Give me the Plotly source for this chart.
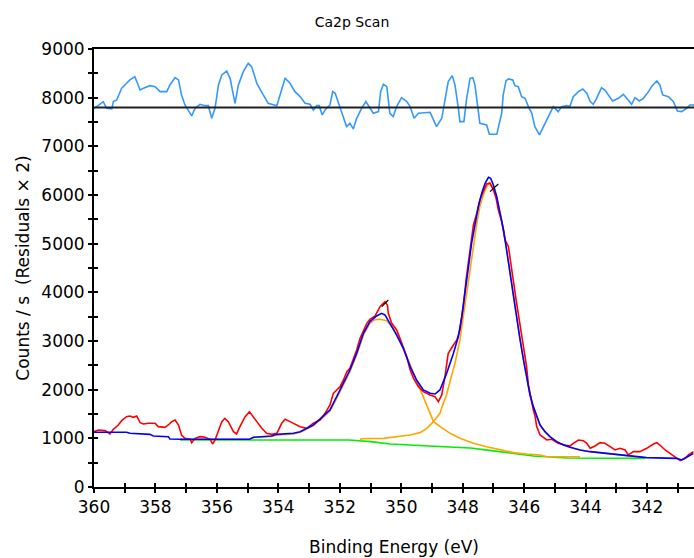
import plotly.graph_objects as go

# ---------------- data ----------------
res_E = [360.00, 359.91, 359.70, 359.59, 359.42, 359.37, 359.26, 359.10, 358.94, 358.83,
         358.67, 358.50, 358.39, 358.18, 358.01, 357.85, 357.63, 357.53, 357.36, 357.25,
         357.15, 357.04, 356.87, 356.82, 356.71, 356.55, 356.39, 356.28, 356.17, 356.06,
         355.95, 355.84, 355.68, 355.57, 355.41, 355.30, 355.14, 354.98, 354.87, 354.70,
         354.49, 354.33, 354.05, 353.95, 353.78, 353.62, 353.46, 353.29, 353.13, 352.97,
         352.86, 352.75, 352.67, 352.57, 352.48, 352.32, 352.23, 352.15, 351.99, 351.88,
         351.78, 351.67, 351.56, 351.45, 351.29, 351.15, 351.02, 350.91, 350.74, 350.67,
         350.58, 350.47, 350.37, 350.26, 350.15, 349.99, 349.82, 349.71, 349.58, 349.44,
         349.06, 348.95, 348.85, 348.68, 348.57, 348.47, 348.34, 348.25, 348.14, 348.09,
         347.96, 347.87, 347.76, 347.67, 347.60, 347.51, 347.44, 347.22, 347.13, 346.89,
         346.81, 346.73, 346.68, 346.59, 346.51, 346.37, 346.30, 346.19, 346.08, 345.97,
         345.86, 345.75, 345.65, 345.50, 345.37, 345.21, 345.05, 344.89, 344.78, 344.61,
         344.51, 344.40, 344.23, 344.09, 343.96, 343.85, 343.75, 343.64, 343.48, 343.37,
         343.26, 343.12, 342.93, 342.77, 342.66, 342.50, 342.39, 342.25, 342.12, 341.95,
         341.83, 341.68, 341.58, 341.49, 341.30, 341.14, 341.01, 340.87, 340.71, 340.60,
         340.47]
res_V = [7782, 7816, 7919, 7782, 7768, 7919, 7953, 8193, 8295, 8364,
         8432, 8158, 8193, 8247, 8227, 8124, 8124, 8261, 8412, 8364,
         8056, 7850, 7679, 7624, 7782, 7864, 7836, 7836, 7576, 7782,
         8261, 8467, 8549, 8398, 7884, 8261, 8535, 8706, 8638, 8295,
         8056, 7884, 7836, 8056, 8398, 8295, 8124, 8021, 7884, 7864,
         7747, 7836, 7836, 7645, 7747, 7850, 8124, 8090, 7782, 7576,
         7405, 7473, 7357, 7576, 7782, 7919, 7782, 7679, 7713, 8124,
         8275, 8227, 7679, 7610, 7816, 8001, 7919, 7816, 7576, 7679,
         7699, 7542, 7405, 7576, 7987, 8330, 8453, 8261, 7782, 7508,
         7508, 7987, 8398, 8412, 8261, 7782, 7473, 7439, 7247, 7247,
         7473, 7679, 8056, 8343, 8384, 8364, 8247, 8227, 8021, 7987,
         7816, 7679, 7405, 7234, 7405, 7610, 7816, 7713, 7816, 7836,
         7816, 8021, 8124, 8179, 8090, 7919, 7864, 7987, 8206, 8158,
         8056, 7932, 7987, 8069, 7987, 7864, 8001, 7932, 7987, 8124,
         8247, 8343, 8261, 8056, 8021, 7919, 7727, 7713, 7782, 7850,
         7850]
res_zero = 7800

raw_E = [360.00, 359.86, 359.64, 359.48, 359.37, 359.21, 359.10, 358.94, 358.83, 358.72,
         358.61, 358.50, 358.39, 358.23, 358.01, 357.91, 357.69, 357.58, 357.47, 357.36,
         357.25, 357.15, 357.04, 356.87, 356.82, 356.71, 356.55, 356.39, 356.22, 356.14,
         356.06, 355.95, 355.84, 355.74, 355.63, 355.46, 355.36, 355.25, 355.08, 354.94,
         354.81, 354.70, 354.54, 354.38, 354.22, 354.05, 353.89, 353.78, 353.62, 353.46,
         353.29, 353.08, 352.86, 352.64, 352.48, 352.32, 352.21, 352.10, 351.99, 351.88,
         351.77, 351.67, 351.56, 351.45, 351.34, 351.23, 351.12, 351.02, 350.85, 350.69,
         350.58, 350.53, 350.45, 350.42, 350.31, 350.15, 350.04, 349.93, 349.82, 349.71,
         349.60, 349.44, 349.28, 349.06, 348.90, 348.79, 348.68, 348.57, 348.47, 348.30,
         348.19, 348.09, 347.98, 347.89, 347.81, 347.71, 347.65, 347.54, 347.44, 347.33,
         347.22, 347.11, 347.00, 346.91, 346.84, 346.73, 346.62, 346.51, 346.44, 346.37,
         346.26, 346.19, 346.11, 346.02, 345.92, 345.86, 345.75, 345.70, 345.64, 345.59,
         345.48, 345.26, 345.10, 344.89, 344.67, 344.50, 344.40, 344.23, 344.07, 343.96,
         343.85, 343.69, 343.53, 343.37, 343.20, 343.04, 342.88, 342.71, 342.61, 342.44,
         342.23, 342.01, 341.79, 341.68, 341.58, 341.41, 341.25, 341.09, 340.92, 340.76,
         340.65, 340.49]
raw_V = [1137, 1172, 1158, 1089, 1185, 1274, 1363, 1446, 1459, 1432,
         1459, 1322, 1295, 1309, 1309, 1240, 1226, 1274, 1343, 1377,
         1274, 1069, 1000, 980, 911, 1000, 1034, 1021, 980, 884,
         966, 1137, 1343, 1411, 1343, 1137, 1089, 1240, 1446, 1548,
         1446, 1343, 1206, 1103, 1082, 1103, 1309, 1391, 1343, 1295,
         1240, 1206, 1309, 1377, 1514, 1685, 1925, 1994, 2062, 2199,
         2370, 2439, 2610, 2816, 3055, 3227, 3364, 3446, 3514, 3706,
         3775, 3809, 3740, 3569, 3364, 3227, 3055, 2884, 2678, 2404,
         2233, 2062, 1959, 1891, 1857, 1754, 1891, 2300, 2747, 2918,
         3021, 3227, 3706, 4254, 4665, 5076, 5384, 5624, 5898, 6069,
         6227, 6241, 6104, 5932, 5693, 5453, 5076, 4939, 4665, 4322,
         3843, 3569, 3227, 2816, 2473, 2100, 1719, 1583, 1446, 1240,
         1069, 966, 980, 898, 863, 843, 897, 966, 952, 898,
         795, 843, 911, 898, 829, 761, 795, 761, 658, 726,
         726, 795, 884, 911, 863, 761, 692, 624, 541, 589,
         658, 726]

fit_E = [360.00, 358.94, 358.83, 358.18, 358.07, 357.58, 357.53, 357.20, 354.94, 354.81,
         354.22, 354.05, 353.51, 353.29, 352.86, 352.54, 352.32, 352.10, 351.88, 351.67,
         351.45, 351.23, 351.02, 350.80, 350.64, 350.53, 350.37, 350.15, 349.93, 349.71,
         349.50, 349.28, 349.06, 348.90, 348.74, 348.52, 348.30, 348.14, 348.03, 347.92,
         347.81, 347.71, 347.60, 347.49, 347.38, 347.27, 347.16, 347.09, 347.00, 346.89,
         346.78, 346.67, 346.57, 346.46, 346.35, 346.24, 346.13, 346.02, 345.92, 345.81,
         345.70, 345.59, 345.48, 345.32, 345.16, 344.94, 344.72, 344.50, 344.18, 343.85,
         343.20, 342.55, 342.01, 341.03, 340.87, 340.71, 340.49]
fit_V = [1124, 1124, 1103, 1082, 1048, 1034, 987, 980, 980, 1021,
         1048, 1082, 1103, 1137, 1274, 1446, 1583, 1857, 2131, 2404,
         2747, 3158, 3398, 3514, 3569, 3535, 3364, 3124, 2850, 2473,
         2199, 1994, 1925, 1911, 1994, 2336, 2747, 3090, 3500, 3980,
         4528, 5008, 5419, 5761, 6035, 6240, 6364, 6343, 6206, 5967,
         5624, 5282, 4871, 4391, 3980, 3500, 3021, 2610, 2268, 1900,
         1651, 1446, 1274, 1137, 1034, 932, 863, 815, 761, 726,
         678, 637, 603, 589, 555, 610, 692]

bg_E = [357.20, 351.70, 351.00, 350.35, 349.10, 347.75, 347.05, 346.40, 345.70, 344.60, 342.06]
bg_V = [966, 966, 932, 884, 843, 802, 747, 692, 637, 595, 589]

c1_E = [357.20, 354.94, 354.81, 354.22, 354.05, 353.51, 353.29, 352.86, 352.54, 352.32,
        352.10, 351.88, 351.67, 351.45, 351.23, 351.02, 350.85, 350.69, 350.47, 350.26,
        350.04, 349.82, 349.60, 349.39, 349.17, 348.95, 348.73, 348.41, 348.09, 347.65,
        347.22, 346.78, 346.35, 345.92, 345.48, 345.26, 344.18]
c1_V = [980, 980, 1015, 1040, 1070, 1090, 1124, 1261, 1432, 1562,
        1822, 2096, 2370, 2713, 3124, 3364, 3440, 3446, 3418, 3261,
        2987, 2678, 2336, 1994, 1651, 1343, 1240, 1103, 1000, 898,
        829, 760, 706, 678, 658, 623, 623]

c2_E = [351.34, 351.29, 350.58, 350.04, 349.71, 349.39, 349.17, 348.95, 348.74, 348.63,
        348.52, 348.40, 348.25, 348.09, 347.98, 347.87, 347.76, 347.65, 347.54, 347.44,
        347.33, 347.22, 347.13, 347.02, 346.91, 346.78, 346.67, 346.57, 346.46, 346.35,
        346.24, 346.13, 346.02, 345.92, 345.81, 345.70, 345.59, 345.48, 345.32, 345.16,
        344.94, 344.72, 344.50, 344.18, 343.85, 343.20, 342.55, 342.06]
c2_V = [966, 990, 1000, 1034, 1069, 1117, 1206, 1343, 1514, 1720,
        1900, 2200, 2541, 3021, 3500, 3980, 4528, 5008, 5419, 5761,
        6001, 6172, 6254, 6172, 5967, 5624, 5282, 4871, 4391, 3980,
        3500, 3021, 2610, 2268, 1900, 1651, 1446, 1274, 1137, 1034,
        932, 863, 815, 761, 726, 678, 637, 600]

mark_E = [350.63, 350.42, None, 347.11, 346.84]
mark_V = [3706, 3843, None, 6069, 6227]

x_tick_vals = [360, 359, 358, 357, 356, 355, 354, 353, 352, 351,
               350, 349, 348, 347, 346, 345, 344, 343, 342, 341]
x_tick_text = ["360", "", "358", "", "356", "", "354", "", "352", "",
               "350", "", "348", "", "346", "", "344", "", "342", ""]
y_tick_vals = [0, 500, 1000, 1500, 2000, 2500, 3000, 3500, 4000, 4500,
               5000, 5500, 6000, 6500, 7000, 7500, 8000, 8500, 9000]
y_tick_text = ["0", "", "1000", "", "2000", "", "3000", "", "4000", "",
               "5000", "", "6000", "", "7000", "", "8000", "", "9000"]

x_range = [360, 340.47]
y_range = [0, 9000]

# ---------------- figure ----------------
FONT = "DejaVu Sans, Verdana, sans-serif"
fig = go.Figure()

def line(x, y, color, width=1.6, **kw):
    fig.add_trace(go.Scatter(x=x, y=y, mode="lines", line=dict(color=color, width=width),
                             hoverinfo="skip", showlegend=False, **kw))

line(res_E, res_V, "#3399FF")
line(bg_E, bg_V, "#00EE00")
line(c1_E, c1_V, "#FFA500")
line(c2_E, c2_V, "#FFA500")
line(raw_E, raw_V, "#FF0000")
line(fit_E, fit_V, "#0000FF")
line(mark_E, mark_V, "#000000", width=1.2)
# empty trace to register overlay axes (inside half of the crossing ticks)
fig.add_trace(go.Scatter(x=[], y=[], xaxis="x2", yaxis="y2", showlegend=False, hoverinfo="skip"))

fig.add_hline(y=res_zero, line=dict(color="#202020", width=2))

axis_common = dict(showgrid=False, zeroline=False, linecolor="black", linewidth=2,
                   tickcolor="black", tickwidth=1.5, ticklen=4,
                   tickfont=dict(family=FONT, size=17, color="black"))

fig.update_layout(
    width=694, height=558,
    margin=dict(l=94, r=0, t=49, b=71),
    paper_bgcolor="white", plot_bgcolor="white",
    title=dict(text="Ca2p Scan", x=352 / 694, xanchor="center", y=1 - 22 / 558, yanchor="middle",
               font=dict(family=FONT, size=14, color="black")),
    xaxis=dict(range=x_range, tickmode="array", tickvals=x_tick_vals, ticktext=x_tick_text,
               ticks="outside", showline=True, mirror=True,
               title=dict(text="Binding Energy (eV)", standoff=25,
                          font=dict(family=FONT, size=17, color="black")),
               **axis_common),
    yaxis=dict(range=y_range, tickmode="array", tickvals=y_tick_vals, ticktext=y_tick_text,
               ticks="outside", showline=True, mirror=False,
               title=dict(text="Counts / s  (Residuals × 2)", standoff=7,
                          font=dict(family=FONT, size=17, color="black")),
               **axis_common),
    xaxis2=dict(range=x_range, overlaying="x", anchor="y", side="bottom", tickmode="array",
                tickvals=x_tick_vals, ticks="inside", showticklabels=False,
                showgrid=False, zeroline=False, showline=False,
                tickcolor="black", tickwidth=1.5, ticklen=4),
    yaxis2=dict(range=y_range, overlaying="y", anchor="x", side="left", tickmode="array",
                tickvals=y_tick_vals, ticks="inside", showticklabels=False,
                showgrid=False, zeroline=False, showline=False,
                tickcolor="black", tickwidth=1.5, ticklen=4),
)

fig.write_html("out.html")
